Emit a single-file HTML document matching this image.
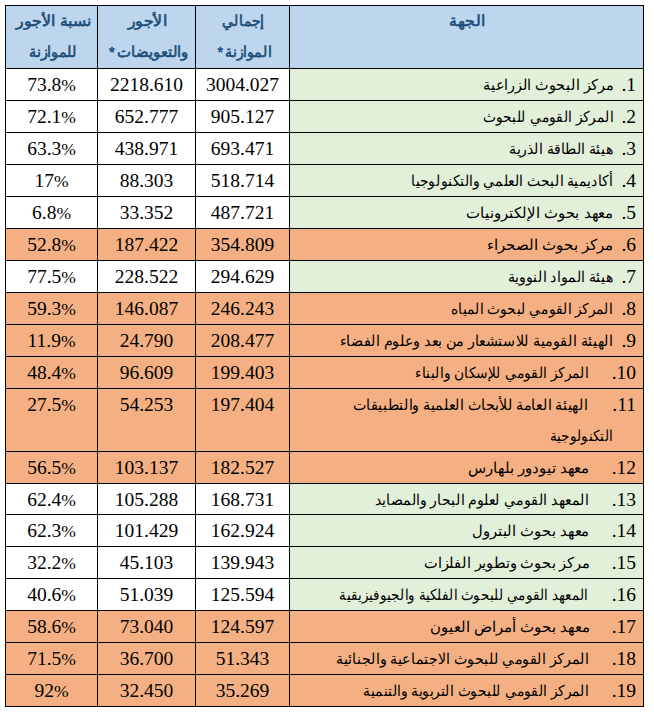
<!DOCTYPE html>
<html lang="ar">
<head>
<meta charset="utf-8">
<title>table</title>
<style>
html,body{margin:0;padding:0;background:#fff;}
body{width:654px;height:713px;position:relative;overflow:hidden;font-family:"Liberation Sans",sans-serif;}
.c{position:absolute;}
.l{position:absolute;background:#000;}
.n{font-family:"Liberation Serif",serif;font-size:19.5px;color:#000;text-align:center;white-space:nowrap;}
.a{position:absolute;font-family:"Liberation Sans",sans-serif;font-size:15px;color:#000;direction:rtl;white-space:nowrap;height:31px;line-height:31px;transform-origin:100% 50%;}
.h{position:absolute;font-family:"Liberation Sans",sans-serif;font-size:15px;font-weight:normal;-webkit-text-stroke:0.6px #1F4E79;color:#1F4E79;direction:rtl;white-space:nowrap;height:31px;line-height:31px;transform-origin:100% 50%;}
.p{font-size:17.5px;}
.s{margin-right:2.5px;}
.k{position:absolute;font-family:"Liberation Serif",serif;font-size:19.5px;direction:rtl;white-space:nowrap;height:31px;line-height:31px;}

</style>
</head>
<body>
<div class="c" style="left:6px;top:6px;width:91px;height:62px;background:#BDD6EE"></div>
<div class="h" id="h00" style="right:562.54px;top:5px;transform:scaleX(1.0521)">نسبة الأجور</div>
<div class="h" id="h01" style="right:577.28px;top:35.8px;transform:scaleX(0.9596)">للموازنة</div>
<div class="c" style="left:98px;top:6px;width:97px;height:62px;background:#BDD6EE"></div>
<div class="h" id="h10" style="right:486.77px;top:5px;transform:scaleX(1.0541)">الأجور</div>
<div class="h" id="h11" style="right:465.62px;top:35.8px;transform:scaleX(0.9873)">والتعويضات<span class="s">*</span></div>
<div class="c" style="left:196px;top:6px;width:93px;height:62px;background:#BDD6EE"></div>
<div class="h" id="h20" style="right:390.42px;top:5px;transform:scaleX(0.9273)">إجمالي</div>
<div class="h" id="h21" style="right:382.67px;top:35.8px;transform:scaleX(0.9393)">الموازنة<span class="s">*</span></div>
<div class="c" style="left:290px;top:6px;width:353px;height:62px;background:#BDD6EE"></div>
<div class="h" id="h30" style="right:168.54px;top:5px;transform:scaleX(1.0500)">الجهة</div>
<div class="c n" style="left:6px;top:69px;width:91px;height:31px;line-height:31px;background:#fff"><span style="position:relative;top:0px">73.8<span class="p">%</span></span></div>
<div class="c n" style="left:98px;top:69px;width:97px;height:31px;line-height:31px;background:#fff"><span style="position:relative;top:0px">2218.610</span></div>
<div class="c n" style="left:196px;top:69px;width:93px;height:31px;line-height:31px;background:#fff"><span style="position:relative;top:0px">3004.027</span></div>
<div class="c" style="left:290px;top:69px;width:353px;height:31px;background:#E2EFD9"></div>
<div class="k" style="right:18px;top:69px">1.</div>
<div class="a" id="r0a" style="right:40.24px;top:69px;transform:scaleX(0.9609)">مركز البحوث الزراعية</div>
<div class="c n" style="left:6px;top:101px;width:91px;height:31px;line-height:31px;background:#fff"><span style="position:relative;top:0px">72.1<span class="p">%</span></span></div>
<div class="c n" style="left:98px;top:101px;width:97px;height:31px;line-height:31px;background:#fff"><span style="position:relative;top:0px">652.777</span></div>
<div class="c n" style="left:196px;top:101px;width:93px;height:31px;line-height:31px;background:#fff"><span style="position:relative;top:0px">905.127</span></div>
<div class="c" style="left:290px;top:101px;width:353px;height:31px;background:#E2EFD9"></div>
<div class="k" style="right:18px;top:101px">2.</div>
<div class="a" id="r1a" style="right:40.78px;top:101px;transform:scaleX(0.9179)">المركز القومي للبحوث</div>
<div class="c n" style="left:6px;top:133px;width:91px;height:31px;line-height:31px;background:#fff"><span style="position:relative;top:0px">63.3<span class="p">%</span></span></div>
<div class="c n" style="left:98px;top:133px;width:97px;height:31px;line-height:31px;background:#fff"><span style="position:relative;top:0px">438.971</span></div>
<div class="c n" style="left:196px;top:133px;width:93px;height:31px;line-height:31px;background:#fff"><span style="position:relative;top:0px">693.471</span></div>
<div class="c" style="left:290px;top:133px;width:353px;height:31px;background:#E2EFD9"></div>
<div class="k" style="right:18px;top:133px">3.</div>
<div class="a" id="r2a" style="right:41.06px;top:133px;transform:scaleX(0.9367)">هيئة الطاقة الذرية</div>
<div class="c n" style="left:6px;top:165px;width:91px;height:31px;line-height:31px;background:#fff"><span style="position:relative;top:0px">17<span class="p">%</span></span></div>
<div class="c n" style="left:98px;top:165px;width:97px;height:31px;line-height:31px;background:#fff"><span style="position:relative;top:0px">88.303</span></div>
<div class="c n" style="left:196px;top:165px;width:93px;height:31px;line-height:31px;background:#fff"><span style="position:relative;top:0px">518.714</span></div>
<div class="c" style="left:290px;top:165px;width:353px;height:31px;background:#E2EFD9"></div>
<div class="k" style="right:18px;top:165px">4.</div>
<div class="a" id="r3a" style="right:41.07px;top:165px;transform:scaleX(0.9270)">أكاديمية البحث العلمي والتكنولوجيا</div>
<div class="c n" style="left:6px;top:197px;width:91px;height:31px;line-height:31px;background:#fff"><span style="position:relative;top:0px">6.8<span class="p">%</span></span></div>
<div class="c n" style="left:98px;top:197px;width:97px;height:31px;line-height:31px;background:#fff"><span style="position:relative;top:0px">33.352</span></div>
<div class="c n" style="left:196px;top:197px;width:93px;height:31px;line-height:31px;background:#fff"><span style="position:relative;top:0px">487.721</span></div>
<div class="c" style="left:290px;top:197px;width:353px;height:31px;background:#E2EFD9"></div>
<div class="k" style="right:18px;top:197px">5.</div>
<div class="a" id="r4a" style="right:40.31px;top:197px;transform:scaleX(0.9925)">معهد بحوث الإلكترونيات</div>
<div class="c n" style="left:6px;top:229px;width:91px;height:31px;line-height:31px;background:#F4B083"><span style="position:relative;top:0px">52.8<span class="p">%</span></span></div>
<div class="c n" style="left:98px;top:229px;width:97px;height:31px;line-height:31px;background:#F4B083"><span style="position:relative;top:0px">187.422</span></div>
<div class="c n" style="left:196px;top:229px;width:93px;height:31px;line-height:31px;background:#F4B083"><span style="position:relative;top:0px">354.809</span></div>
<div class="c" style="left:290px;top:229px;width:353px;height:31px;background:#F4B083"></div>
<div class="k" style="right:18px;top:229px">6.</div>
<div class="a" id="r5a" style="right:40.2px;top:229px;transform:scaleX(1.0016)">مركز بحوث الصحراء</div>
<div class="c n" style="left:6px;top:261px;width:91px;height:31px;line-height:31px;background:#fff"><span style="position:relative;top:0px">77.5<span class="p">%</span></span></div>
<div class="c n" style="left:98px;top:261px;width:97px;height:31px;line-height:31px;background:#fff"><span style="position:relative;top:0px">228.522</span></div>
<div class="c n" style="left:196px;top:261px;width:93px;height:31px;line-height:31px;background:#fff"><span style="position:relative;top:0px">294.629</span></div>
<div class="c" style="left:290px;top:261px;width:353px;height:31px;background:#E2EFD9"></div>
<div class="k" style="right:18px;top:261px">7.</div>
<div class="a" id="r6a" style="right:41.06px;top:261px;transform:scaleX(0.9391)">هيئة المواد النووية</div>
<div class="c n" style="left:6px;top:293px;width:91px;height:31px;line-height:31px;background:#F4B083"><span style="position:relative;top:0px">59.3<span class="p">%</span></span></div>
<div class="c n" style="left:98px;top:293px;width:97px;height:31px;line-height:31px;background:#F4B083"><span style="position:relative;top:0px">146.087</span></div>
<div class="c n" style="left:196px;top:293px;width:93px;height:31px;line-height:31px;background:#F4B083"><span style="position:relative;top:0px">246.243</span></div>
<div class="c" style="left:290px;top:293px;width:353px;height:31px;background:#F4B083"></div>
<div class="k" style="right:18px;top:293px">8.</div>
<div class="a" id="r7a" style="right:41.09px;top:293px;transform:scaleX(0.9114)">المركز القومي لبحوث المياه</div>
<div class="c n" style="left:6px;top:325px;width:91px;height:31px;line-height:31px;background:#F4B083"><span style="position:relative;top:0px">11.9<span class="p">%</span></span></div>
<div class="c n" style="left:98px;top:325px;width:97px;height:31px;line-height:31px;background:#F4B083"><span style="position:relative;top:0px">24.790</span></div>
<div class="c n" style="left:196px;top:325px;width:93px;height:31px;line-height:31px;background:#F4B083"><span style="position:relative;top:0px">208.477</span></div>
<div class="c" style="left:290px;top:325px;width:353px;height:31px;background:#F4B083"></div>
<div class="k" style="right:18px;top:325px">9.</div>
<div class="a" id="r8a" style="right:41.35px;top:325px;transform:scaleX(0.9518)">الهيئة القومية للاستشعار من بعد وعلوم الفضاء</div>
<div class="c n" style="left:6px;top:357px;width:91px;height:31px;line-height:31px;background:#F4B083"><span style="position:relative;top:0px">48.4<span class="p">%</span></span></div>
<div class="c n" style="left:98px;top:357px;width:97px;height:31px;line-height:31px;background:#F4B083"><span style="position:relative;top:0px">96.609</span></div>
<div class="c n" style="left:196px;top:357px;width:93px;height:31px;line-height:31px;background:#F4B083"><span style="position:relative;top:0px">199.403</span></div>
<div class="c" style="left:290px;top:357px;width:353px;height:31px;background:#F4B083"></div>
<div class="k" style="right:18px;top:357px">10.</div>
<div class="a" id="r9a" style="right:65.54px;top:357px;transform:scaleX(0.9194)">المركز القومي للإسكان والبناء</div>
<div class="c n" style="left:6px;top:389px;width:91px;height:62px;line-height:31px;background:#F4B083"><span style="position:relative;top:0px">27.5<span class="p">%</span></span></div>
<div class="c n" style="left:98px;top:389px;width:97px;height:62px;line-height:31px;background:#F4B083"><span style="position:relative;top:0px">54.253</span></div>
<div class="c n" style="left:196px;top:389px;width:93px;height:62px;line-height:31px;background:#F4B083"><span style="position:relative;top:0px">197.404</span></div>
<div class="c" style="left:290px;top:389px;width:353px;height:62px;background:#F4B083"></div>
<div class="k" style="right:18px;top:389px">11.</div>
<div class="a" id="r10a" style="right:65.93px;top:389px;transform:scaleX(0.9494)">الهيئة العامة للأبحاث العلمية والتطبيقات</div>
<div class="a" id="r10b" style="right:40.71px;top:419.5px;transform:scaleX(0.9044)">التكنولوجية</div>
<div class="c n" style="left:6px;top:452px;width:91px;height:31px;line-height:31px;background:#F4B083"><span style="position:relative;top:0px">56.5<span class="p">%</span></span></div>
<div class="c n" style="left:98px;top:452px;width:97px;height:31px;line-height:31px;background:#F4B083"><span style="position:relative;top:0px">103.137</span></div>
<div class="c n" style="left:196px;top:452px;width:93px;height:31px;line-height:31px;background:#F4B083"><span style="position:relative;top:0px">182.527</span></div>
<div class="c" style="left:290px;top:452px;width:353px;height:31px;background:#F4B083"></div>
<div class="k" style="right:18px;top:452px">12.</div>
<div class="a" id="r11a" style="right:64.7px;top:452px;transform:scaleX(0.9908)">معهد تيودور بلهارس</div>
<div class="c n" style="left:6px;top:484px;width:91px;height:30px;line-height:31px;background:#fff"><span style="position:relative;top:0px">62.4<span class="p">%</span></span></div>
<div class="c n" style="left:98px;top:484px;width:97px;height:30px;line-height:31px;background:#fff"><span style="position:relative;top:0px">105.288</span></div>
<div class="c n" style="left:196px;top:484px;width:93px;height:30px;line-height:31px;background:#fff"><span style="position:relative;top:0px">168.731</span></div>
<div class="c" style="left:290px;top:484px;width:353px;height:30px;background:#E2EFD9"></div>
<div class="k" style="right:18px;top:484px">13.</div>
<div class="a" id="r12a" style="right:65.53px;top:484px;transform:scaleX(0.9387)">المعهد القومي لعلوم البحار والمصايد</div>
<div class="c n" style="left:6px;top:515px;width:91px;height:31px;line-height:31px;background:#fff"><span style="position:relative;top:0px">62.3<span class="p">%</span></span></div>
<div class="c n" style="left:98px;top:515px;width:97px;height:31px;line-height:31px;background:#fff"><span style="position:relative;top:0px">101.429</span></div>
<div class="c n" style="left:196px;top:515px;width:93px;height:31px;line-height:31px;background:#fff"><span style="position:relative;top:0px">162.924</span></div>
<div class="c" style="left:290px;top:515px;width:353px;height:31px;background:#E2EFD9"></div>
<div class="k" style="right:18px;top:515px">14.</div>
<div class="a" id="r13a" style="right:64.71px;top:515px;transform:scaleX(0.9829)">معهد بحوث البترول</div>
<div class="c n" style="left:6px;top:547px;width:91px;height:31px;line-height:31px;background:#fff"><span style="position:relative;top:0px">32.2<span class="p">%</span></span></div>
<div class="c n" style="left:98px;top:547px;width:97px;height:31px;line-height:31px;background:#fff"><span style="position:relative;top:0px">45.103</span></div>
<div class="c n" style="left:196px;top:547px;width:93px;height:31px;line-height:31px;background:#fff"><span style="position:relative;top:0px">139.943</span></div>
<div class="c" style="left:290px;top:547px;width:353px;height:31px;background:#E2EFD9"></div>
<div class="k" style="right:18px;top:547px">15.</div>
<div class="a" id="r14a" style="right:64.71px;top:547px;transform:scaleX(0.9702)">مركز بحوث وتطوير الفلزات</div>
<div class="c n" style="left:6px;top:579px;width:91px;height:31px;line-height:31px;background:#fff"><span style="position:relative;top:0px">40.6<span class="p">%</span></span></div>
<div class="c n" style="left:98px;top:579px;width:97px;height:31px;line-height:31px;background:#fff"><span style="position:relative;top:0px">51.039</span></div>
<div class="c n" style="left:196px;top:579px;width:93px;height:31px;line-height:31px;background:#fff"><span style="position:relative;top:0px">125.594</span></div>
<div class="c" style="left:290px;top:579px;width:353px;height:31px;background:#E2EFD9"></div>
<div class="k" style="right:18px;top:579px">16.</div>
<div class="a" id="r15a" style="right:65.95px;top:579px;transform:scaleX(0.8974)">المعهد القومي للبحوث الفلكية والجيوفيزيقية</div>
<div class="c n" style="left:6px;top:611px;width:91px;height:31px;line-height:31px;background:#F4B083"><span style="position:relative;top:0px">58.6<span class="p">%</span></span></div>
<div class="c n" style="left:98px;top:611px;width:97px;height:31px;line-height:31px;background:#F4B083"><span style="position:relative;top:0px">73.040</span></div>
<div class="c n" style="left:196px;top:611px;width:93px;height:31px;line-height:31px;background:#F4B083"><span style="position:relative;top:0px">124.597</span></div>
<div class="c" style="left:290px;top:611px;width:353px;height:31px;background:#F4B083"></div>
<div class="k" style="right:18px;top:611px">17.</div>
<div class="a" id="r16a" style="right:64.7px;top:611px;transform:scaleX(0.9937)">معهد بحوث أمراض العيون</div>
<div class="c n" style="left:6px;top:643px;width:91px;height:31px;line-height:31px;background:#F4B083"><span style="position:relative;top:0px">71.5<span class="p">%</span></span></div>
<div class="c n" style="left:98px;top:643px;width:97px;height:31px;line-height:31px;background:#F4B083"><span style="position:relative;top:0px">36.700</span></div>
<div class="c n" style="left:196px;top:643px;width:93px;height:31px;line-height:31px;background:#F4B083"><span style="position:relative;top:0px">51.343</span></div>
<div class="c" style="left:290px;top:643px;width:353px;height:31px;background:#F4B083"></div>
<div class="k" style="right:18px;top:643px">18.</div>
<div class="a" id="r17a" style="right:65.73px;top:643px;transform:scaleX(0.9477)">المركز القومي للبحوث الاجتماعية والجنائية</div>
<div class="c n" style="left:6px;top:675px;width:91px;height:31px;line-height:31px;background:#F4B083"><span style="position:relative;top:0px">92<span class="p">%</span></span></div>
<div class="c n" style="left:98px;top:675px;width:97px;height:31px;line-height:31px;background:#F4B083"><span style="position:relative;top:0px">32.450</span></div>
<div class="c n" style="left:196px;top:675px;width:93px;height:31px;line-height:31px;background:#F4B083"><span style="position:relative;top:0px">35.269</span></div>
<div class="c" style="left:290px;top:675px;width:353px;height:31px;background:#F4B083"></div>
<div class="k" style="right:18px;top:675px">19.</div>
<div class="a" id="r18a" style="right:65.74px;top:675px;transform:scaleX(0.9211)">المركز القومي للبحوث التربوية والتنمية</div>
<div class="l" style="left:5px;top:5px;width:1px;height:702px"></div>
<div class="l" style="left:97px;top:5px;width:1px;height:702px"></div>
<div class="l" style="left:195px;top:5px;width:1px;height:702px"></div>
<div class="l" style="left:289px;top:5px;width:1px;height:702px"></div>
<div class="l" style="left:643px;top:5px;width:1px;height:702px"></div>
<div class="l" style="left:5px;top:5px;width:639px;height:1px"></div>
<div class="l" style="left:5px;top:68px;width:639px;height:1px"></div>
<div class="l" style="left:5px;top:100px;width:639px;height:1px"></div>
<div class="l" style="left:5px;top:132px;width:639px;height:1px"></div>
<div class="l" style="left:5px;top:164px;width:639px;height:1px"></div>
<div class="l" style="left:5px;top:196px;width:639px;height:1px"></div>
<div class="l" style="left:5px;top:228px;width:639px;height:1px"></div>
<div class="l" style="left:5px;top:260px;width:639px;height:1px"></div>
<div class="l" style="left:5px;top:292px;width:639px;height:1px"></div>
<div class="l" style="left:5px;top:324px;width:639px;height:1px"></div>
<div class="l" style="left:5px;top:356px;width:639px;height:1px"></div>
<div class="l" style="left:5px;top:388px;width:639px;height:1px"></div>
<div class="l" style="left:5px;top:451px;width:639px;height:1px"></div>
<div class="l" style="left:5px;top:483px;width:639px;height:1px"></div>
<div class="l" style="left:5px;top:514px;width:639px;height:1px"></div>
<div class="l" style="left:5px;top:546px;width:639px;height:1px"></div>
<div class="l" style="left:5px;top:578px;width:639px;height:1px"></div>
<div class="l" style="left:5px;top:610px;width:639px;height:1px"></div>
<div class="l" style="left:5px;top:642px;width:639px;height:1px"></div>
<div class="l" style="left:5px;top:674px;width:639px;height:1px"></div>
<div class="l" style="left:5px;top:706px;width:639px;height:1px"></div>
</body>
</html>
